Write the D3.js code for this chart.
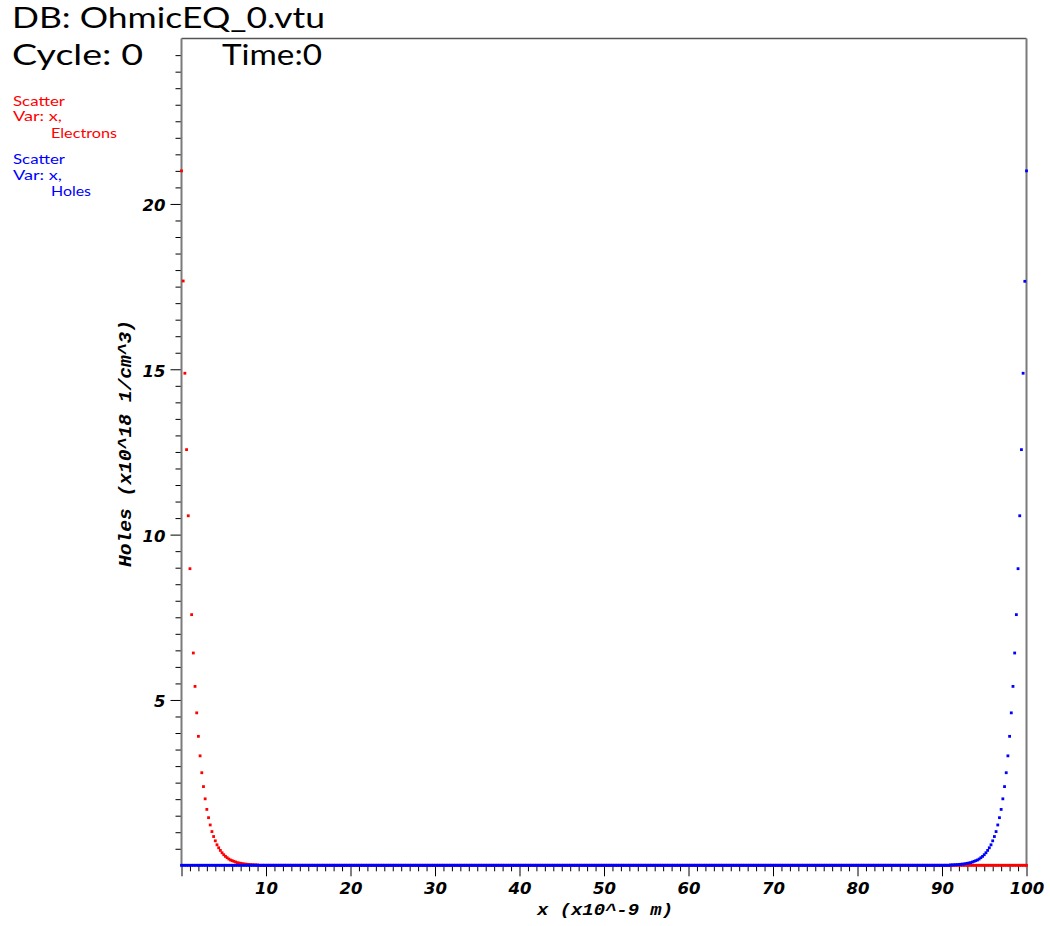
<!DOCTYPE html>
<html><head><meta charset="utf-8">
<script src="https://cdn.jsdelivr.net/npm/d3@7"></script>
<style>body{margin:0;background:#fff}</style>
</head><body><svg id="c" width="1050" height="926"></svg>
<script>
// ---- data ----
const meshStart = 0, meshEnd = 100, meshCount = 501;
const xTickLabels = [10, 20, 30, 40, 50, 60, 70, 80, 90, 100];
const yTickLabels = [5, 10, 15, 20];
const seriesNames = ["Electrons", "Holes"];
const seriesColors = ["#ff0000", "#0000ff"];
const electrons = [21.0, 17.67, 14.88, 12.57, 10.57, 8.97, 7.58, 6.42, 5.41, 4.61,
 3.90, 3.31, 2.80, 2.38, 2.01, 1.69, 1.44, 1.22, 1.02, 0.87,
 0.74, 0.62, 0.53, 0.45, 0.38, 0.32, 0.27, 0.23, 0.19, 0.16,
 0.14, 0.12, 0.10, 0.08, 0.07, 0.06, 0.05, 0.04, 0.035, 0.03,
 0.025, 0.02, 0.017, 0.014, 0.012, 0.01,
 0,0,0,0,0, 0,0,0,0,0, 0,0,0,0,0, 0,0,0,0,0, 0,0,0,0,0, 0,0,0,0,0, 0,0,0,0,0, 0,0,0,0,0, 0,0,0,0,0, 0,0,0,0,0,
 0,0,0,0,0, 0,0,0,0,0, 0,0,0,0,0, 0,0,0,0,0, 0,0,0,0,0, 0,0,0,0,0, 0,0,0,0,0, 0,0,0,0,0, 0,0,0,0,0, 0,0,0,0,0,
 0,0,0,0,0, 0,0,0,0,0, 0,0,0,0,0, 0,0,0,0,0, 0,0,0,0,0, 0,0,0,0,0, 0,0,0,0,0, 0,0,0,0,0, 0,0,0,0,0, 0,0,0,0,0,
 0,0,0,0,0, 0,0,0,0,0, 0,0,0,0,0, 0,0,0,0,0, 0,0,0,0,0, 0,0,0,0,0, 0,0,0,0,0, 0,0,0,0,0, 0,0,0,0,0, 0,0,0,0,0,
 0,0,0,0,0, 0,0,0,0,0, 0,0,0,0,0, 0,0,0,0,0, 0,0,0,0,0, 0,0,0,0,0, 0,0,0,0,0, 0,0,0,0,0, 0,0,0,0,0, 0,0,0,0,0,
 0,0,0,0,0, 0,0,0,0,0, 0,0,0,0,0, 0,0,0,0,0, 0,0,0,0,0, 0,0,0,0,0, 0,0,0,0,0, 0,0,0,0,0, 0,0,0,0,0, 0,0,0,0,0,
 0,0,0,0,0, 0,0,0,0,0, 0,0,0,0,0, 0,0,0,0,0, 0,0,0,0,0, 0,0,0,0,0, 0,0,0,0,0, 0,0,0,0,0, 0,0,0,0,0, 0,0,0,0,0,
 0,0,0,0,0, 0,0,0,0,0, 0,0,0,0,0, 0,0,0,0,0, 0,0,0,0,0, 0,0,0,0,0, 0,0,0,0,0, 0,0,0,0,0, 0,0,0,0,0, 0,0,0,0,0,
 0,0,0,0,0, 0,0,0,0,0, 0,0,0,0,0, 0,0,0,0,0, 0,0,0,0,0, 0,0,0,0,0, 0,0,0,0,0, 0,0,0,0,0, 0,0,0,0,0, 0,0,0,0,0,
 0,0,0,0,0];
const holes = [
 0,0,0,0,0, 0,0,0,0,0, 0,0,0,0,0, 0,0,0,0,0, 0,0,0,0,0, 0,0,0,0,0, 0,0,0,0,0, 0,0,0,0,0, 0,0,0,0,0, 0,0,0,0,0,
 0,0,0,0,0, 0,0,0,0,0, 0,0,0,0,0, 0,0,0,0,0, 0,0,0,0,0, 0,0,0,0,0, 0,0,0,0,0, 0,0,0,0,0, 0,0,0,0,0, 0,0,0,0,0,
 0,0,0,0,0, 0,0,0,0,0, 0,0,0,0,0, 0,0,0,0,0, 0,0,0,0,0, 0,0,0,0,0, 0,0,0,0,0, 0,0,0,0,0, 0,0,0,0,0, 0,0,0,0,0,
 0,0,0,0,0, 0,0,0,0,0, 0,0,0,0,0, 0,0,0,0,0, 0,0,0,0,0, 0,0,0,0,0, 0,0,0,0,0, 0,0,0,0,0, 0,0,0,0,0, 0,0,0,0,0,
 0,0,0,0,0, 0,0,0,0,0, 0,0,0,0,0, 0,0,0,0,0, 0,0,0,0,0, 0,0,0,0,0, 0,0,0,0,0, 0,0,0,0,0, 0,0,0,0,0, 0,0,0,0,0,
 0,0,0,0,0, 0,0,0,0,0, 0,0,0,0,0, 0,0,0,0,0, 0,0,0,0,0, 0,0,0,0,0, 0,0,0,0,0, 0,0,0,0,0, 0,0,0,0,0, 0,0,0,0,0,
 0,0,0,0,0, 0,0,0,0,0, 0,0,0,0,0, 0,0,0,0,0, 0,0,0,0,0, 0,0,0,0,0, 0,0,0,0,0, 0,0,0,0,0, 0,0,0,0,0, 0,0,0,0,0,
 0,0,0,0,0, 0,0,0,0,0, 0,0,0,0,0, 0,0,0,0,0, 0,0,0,0,0, 0,0,0,0,0, 0,0,0,0,0, 0,0,0,0,0, 0,0,0,0,0, 0,0,0,0,0,
 0,0,0,0,0, 0,0,0,0,0, 0,0,0,0,0, 0,0,0,0,0, 0,0,0,0,0, 0,0,0,0,0, 0,0,0,0,0, 0,0,0,0,0, 0,0,0,0,0, 0,0,0,0,0,
 0,0,0,0,0,
 0.01, 0.012, 0.014, 0.017, 0.02, 0.025, 0.03, 0.035, 0.04, 0.05,
 0.06, 0.07, 0.08, 0.10, 0.12, 0.14, 0.16, 0.19, 0.23, 0.27,
 0.32, 0.38, 0.45, 0.53, 0.62, 0.74, 0.87, 1.02, 1.22, 1.44,
 1.69, 2.01, 2.38, 2.80, 3.31, 3.90, 4.61, 5.41, 6.42, 7.58,
 8.97, 10.57, 12.57, 14.88, 17.66, 21.0];

// ---- drawing ----
const svg = d3.select("#c");
const x = d3.scaleLinear().domain([0, 100]).range([181.5, 1026.5]);
const y = d3.scaleLinear().domain([0, 25]).range([865.3, 38.6]);
const meshX = i => meshStart + i * (meshEnd - meshStart) / (meshCount - 1);

const tickFont = "'DejaVu Sans', sans-serif";
const monoFont = "'Liberation Mono', 'DejaVu Sans Mono', monospace";

// x minor ticks
const xMinor = d3.range(1, 100).filter(v => v % 10 !== 0);
const gxm = svg.append("g").attr("transform", `translate(0,${y(0)})`)
  .call(d3.axisBottom(x).tickValues(xMinor).tickSize(6).tickFormat(""));
gxm.select(".domain").remove();
const gx = svg.append("g").attr("transform", `translate(0,${y(0)})`)
  .call(d3.axisBottom(x).tickValues([0].concat(xTickLabels)).tickSize(11).tickPadding(6)
    .tickFormat(d => d === 0 ? "" : d));
gx.select(".domain").remove();
gx.selectAll("text").attr("font-family", tickFont).attr("font-size", 16.5)
  .attr("font-weight", "bold").attr("font-style", "italic").attr("fill", "#000");

// y ticks
const yMinor = d3.range(1, 50).map(v => v / 2).filter(v => v % 5 !== 0);
const gym = svg.append("g").attr("transform", `translate(${x(0)},0)`)
  .call(d3.axisLeft(y).tickValues(yMinor).tickSize(6).tickFormat(""));
gym.select(".domain").remove();
const gy = svg.append("g").attr("transform", `translate(${x(0)},0)`)
  .call(d3.axisLeft(y).tickValues(yTickLabels).tickSize(11).tickPadding(5));
gy.select(".domain").remove();
gy.selectAll("text").attr("font-family", tickFont).attr("font-size", 16.5)
  .attr("font-weight", "bold").attr("font-style", "italic").attr("fill", "#000")
  .attr("dy", "0.42em");
svg.selectAll(".tick line").attr("stroke", "#000").attr("stroke-width", 1);

// frame
svg.append("line").attr("x1", x(0)).attr("x2", x(100)).attr("y1", y(25)).attr("y2", y(25))
  .attr("stroke", "#555").attr("stroke-width", 1.5);
svg.append("line").attr("x1", x(0)).attr("x2", x(0)).attr("y1", y(25)).attr("y2", y(0) + 2)
  .attr("stroke", "#7a7a7a").attr("stroke-width", 2);
svg.append("line").attr("x1", x(100)).attr("x2", x(100)).attr("y1", y(25)).attr("y2", y(0) + 2)
  .attr("stroke", "#7a7a7a").attr("stroke-width", 2);
svg.append("line").attr("x1", x(0)).attr("x2", x(100)).attr("y1", y(0)).attr("y2", y(0))
  .attr("stroke", "#7a7a7a").attr("stroke-width", 2);

// points
const ps = 2.8;
[electrons, holes].forEach((vals, si) => {
  svg.append("g").selectAll("rect").data(vals).join("rect")
    .attr("x", (d, i) => x(meshX(i)) - ps / 2)
    .attr("y", d => y(d) - ps / 2)
    .attr("width", ps).attr("height", ps)
    .attr("fill", seriesColors[si]);
});

// axis titles
svg.append("text").attr("x", 605).attr("y", 915).attr("text-anchor", "middle")
  .attr("font-family", monoFont).attr("font-size", 17).attr("font-weight", "bold")
  .attr("font-style", "italic").attr("textLength", 136).attr("lengthAdjust", "spacingAndGlyphs")
  .text("x (x10^-9 m)");
svg.append("text").attr("transform", "translate(131,443.5) rotate(-90)").attr("text-anchor", "middle")
  .attr("font-family", monoFont).attr("font-size", 18).attr("font-weight", "bold")
  .attr("font-style", "italic").attr("textLength", 247).attr("lengthAdjust", "spacingAndGlyphs")
  .text("Holes (x10^18 1/cm^3)");

// header annotations
const hdrFont = "Lato, 'DejaVu Sans', sans-serif";
svg.append("text").attr("x", 12).attr("y", 28).attr("font-family", hdrFont).attr("font-size", 29)
  .attr("textLength", 313).attr("lengthAdjust", "spacingAndGlyphs").text("DB: OhmicEQ_0.vtu");
svg.append("text").attr("x", 12).attr("y", 65).attr("font-family", hdrFont).attr("font-size", 29)
  .attr("textLength", 131).attr("lengthAdjust", "spacingAndGlyphs").text("Cycle: 0");
svg.append("text").attr("x", 222).attr("y", 65).attr("font-family", hdrFont).attr("font-size", 29)
  .attr("textLength", 100).attr("lengthAdjust", "spacingAndGlyphs").text("Time:0");

// legend
const legFont = "Lato, 'DejaVu Sans', sans-serif";
const legTop = [105.5, 164];
const nameLen = { Electrons: 66, Holes: 40 };
seriesNames.forEach((name, si) => {
  const g = svg.append("g").attr("fill", seriesColors[si]).attr("font-family", legFont).attr("font-size", 13.5);
  g.append("text").attr("x", 13).attr("y", legTop[si]).attr("textLength", 52)
    .attr("lengthAdjust", "spacingAndGlyphs").text("Scatter");
  g.append("text").attr("x", 13).attr("y", legTop[si] + 15.5).attr("textLength", 49)
    .attr("lengthAdjust", "spacingAndGlyphs").text("Var: x,");
  g.append("text").attr("x", 51).attr("y", legTop[si] + 32).attr("textLength", nameLen[name])
    .attr("lengthAdjust", "spacingAndGlyphs").text(name);
});
</script>
</body></html>
